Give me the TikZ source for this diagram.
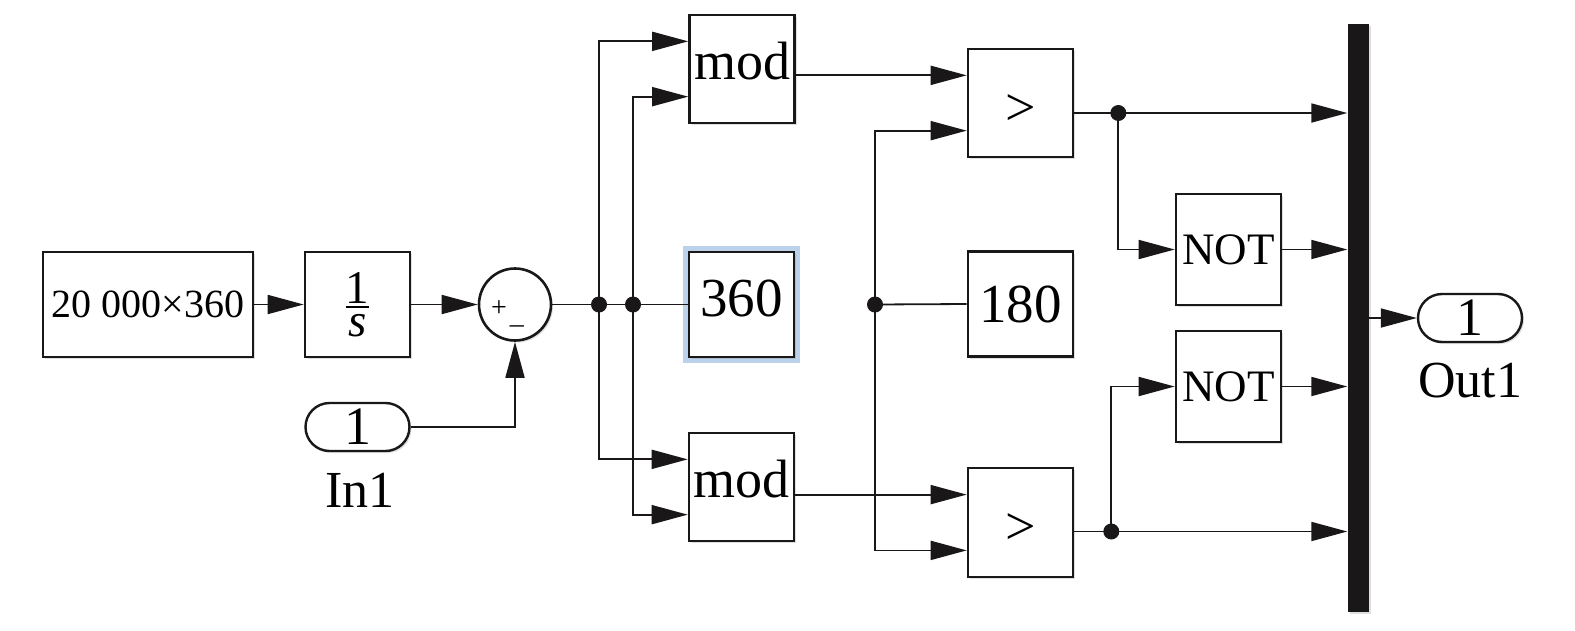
\documentclass[tikz,border=0pt]{standalone}
\usepackage{fontspec}
\setmainfont{Liberation Serif}
\usepackage{tikz}
\usetikzlibrary{arrows.meta, calc, shapes.misc, shadows, backgrounds}
\definecolor{WireBlack}{HTML}{1A1718}
\definecolor{SelectBlue}{HTML}{BCD1EA}
\newcommand{\blockfont}[1]{\fontsize{#1}{#1}\selectfont}
\newcommand{\intfrac}[2]{\vbox{\offinterlineskip\halign{\hfil##\hfil\cr #1\cr\noalign{\kern3pt\hrule height2pt\kern6pt}#2\cr}}}
\tikzset{
  % Box styles
  simblock/.style={rectangle, draw=WireBlack, line width=2.6pt, fill=white, minimum width=105pt, minimum height=105pt, inner sep=0pt, align=center, drop shadow={shadow xshift=2pt, shadow yshift=-2pt, opacity=0.25}},
  modbox/.style={simblock, minimum height=108pt, font=\blockfont{54}, text height=20pt, text depth=0pt},
  gtbox/.style={simblock, minimum height=108pt, font=\blockfont{54}, text height=44pt, text depth=0pt},
  notbox/.style={simblock, minimum height=111pt, font=\blockfont{45}},
  constbox/.style={simblock, font=\blockfont{55}},
  sumnode/.style={circle, draw=WireBlack, line width=2.6pt, fill=white, minimum size=72pt, inner sep=0pt, drop shadow={shadow xshift=2pt, shadow yshift=-2pt, opacity=0.25}},
  portnode/.style={rounded rectangle, draw=WireBlack, line width=2.4pt, fill=white, minimum width=104pt, minimum height=48pt, inner sep=0pt, font=\blockfont{54}, drop shadow={shadow xshift=2pt, shadow yshift=-2pt, opacity=0.25}},
  portlabel/.style={inner sep=0pt, font=\blockfont{52}},
  busbar/.style={rectangle, fill=WireBlack, minimum width=21pt, minimum height=588pt, inner sep=0pt, drop shadow={shadow xshift=2pt, shadow yshift=-2pt, opacity=0.25}},
  % Arrow styles
  wire/.style={line width=1.8pt, WireBlack},
  arrow/.style={-{Triangle[length=36pt, width=19pt]}, line width=1.8pt, WireBlack},
  % Node styles
  junction/.style={circle, fill=WireBlack, minimum size=16pt, inner sep=0pt}
}

\begin{document}
\begin{tikzpicture}[x=1pt, y=-1pt]
  \useasboundingbox (0,0) rectangle (1575,630);

  % Angle integrator
  \node[simblock, minimum width=210pt] (src) at (148,304.5) {\blockfont{40}20 000×360};
  \node[simblock, font=\blockfont{47}] (integ) at (357.5,304.5) {\intfrac{1}{\textit{s}}};
  \node[sumnode, label={[font=\blockfont{28}, anchor=base, xshift=-7.5pt, yshift=-9.5pt]center:{+\kern3pt\raisebox{-7pt}{\_}}}] (sum) at (515,304.5) {};
  \node[portnode] (inport) at (357.5,427) {1};
  \node[portlabel] (inlabel) at (360,490) {In1};

  % Modulo and compare
  \node[modbox] (modA) at (742,69) {mod};
  \node[constbox, text height=24pt, text depth=0pt] (c360) at (741.5,304.5) {360};
  \node[modbox] (modB) at (741.5,487) {mod};
  \node[gtbox] (gtA) at (1020.5,103) {>};
  \node[constbox] (c180) at (1020.5,304) {180};
  \node[gtbox, minimum height=109pt] (gtB) at (1020.5,522.5) {>};
  \node[notbox] (notA) at (1228.5,249.5) {NOT};
  \node[notbox] (notB) at (1228.5,386.5) {NOT};

  % Bus and output
  \node[busbar] (bus) at (1358,318) {};
  \node[portnode] (outport) at (1470,318) {1};
  \node[portlabel] (outlabel) at (1470,381) {Out1};

  \begin{scope}[on background layer]
    \fill[SelectBlue] ($(c360.north west)+(-5,-5)$) rectangle ($(c360.south east)+(5,5)$);
  \end{scope}

  % Input ports
  \coordinate (modA-in1) at ($(modA.north west)!.25!(modA.south west)$);
  \coordinate (modA-in2) at ($(modA.north west)!.75!(modA.south west)$);
  \coordinate (modB-in1) at ($(modB.north west)!.25!(modB.south west)$);
  \coordinate (modB-in2) at ($(modB.north west)!.75!(modB.south west)$);
  \coordinate (gtA-in1) at ($(gtA.north west)!.25!(gtA.south west)$);
  \coordinate (gtA-in2) at ($(gtA.north west)!.75!(gtA.south west)$);
  \coordinate (gtB-in1) at ($(gtB.north west)!.25!(gtB.south west)$);
  \coordinate (gtB-in2) at ($(gtB.north west)!.75!(gtB.south west)$);

  % Junctions
  \coordinate (jSum1) at (599,304.5);
  \coordinate (jSum2) at (633,304.5);
  \coordinate (jRef) at (875,304.5);
  \coordinate (jTop) at ($(gtA.east)+(0,10)$);
  \coordinate (jBot) at ($(gtB.east)+(0,9)$);

  % Arrows
  \draw[arrow] (src) -- (integ);
  \draw[arrow] (integ) -- (sum);
  \draw[arrow] (inport.east) -| (sum.south);
  \draw[wire] (sum.east) -- (c360.west);
  \draw[arrow] (jSum1) |- (modA-in1);
  \draw[arrow] (jSum1) |- (modB-in1);
  \draw[arrow] (jSum2) |- (modA-in2);
  \draw[arrow] (jSum2) |- (modB-in2);
  \draw[arrow] (modA.east |- gtA-in1) -- (gtA-in1);
  \draw[arrow] (modB.east |- gtB-in1) -- (gtB-in1);
  \draw[wire] (jRef) -- (c180.west);
  \draw[arrow] (jRef) |- (gtA-in2);
  \draw[arrow] (jRef) |- (gtB-in2);
  \draw[arrow] (jTop) -- (bus.west |- jTop);
  \draw[arrow] (jBot) -- (bus.west |- jBot);
  \draw[arrow] ([xshift=44pt]jTop) |- (notA.west);
  \draw[arrow] ([xshift=37pt]jBot) |- (notB.west);
  \draw[arrow] (notA.east) -- (bus.west |- notA.east);
  \draw[arrow] (notB.east) -- (bus.west |- notB.east);
  \draw[arrow] (bus.east) -- (outport.west);

  % Dots
  \node[junction] (dSum1) at (jSum1) {};
  \node[junction] (dSum2) at (jSum2) {};
  \node[junction] (dRef) at (jRef) {};
  \node[junction] (dTop) at ([xshift=44pt]jTop) {};
  \node[junction] (dBot) at ([xshift=37pt]jBot) {};
\end{tikzpicture}
\end{document}
